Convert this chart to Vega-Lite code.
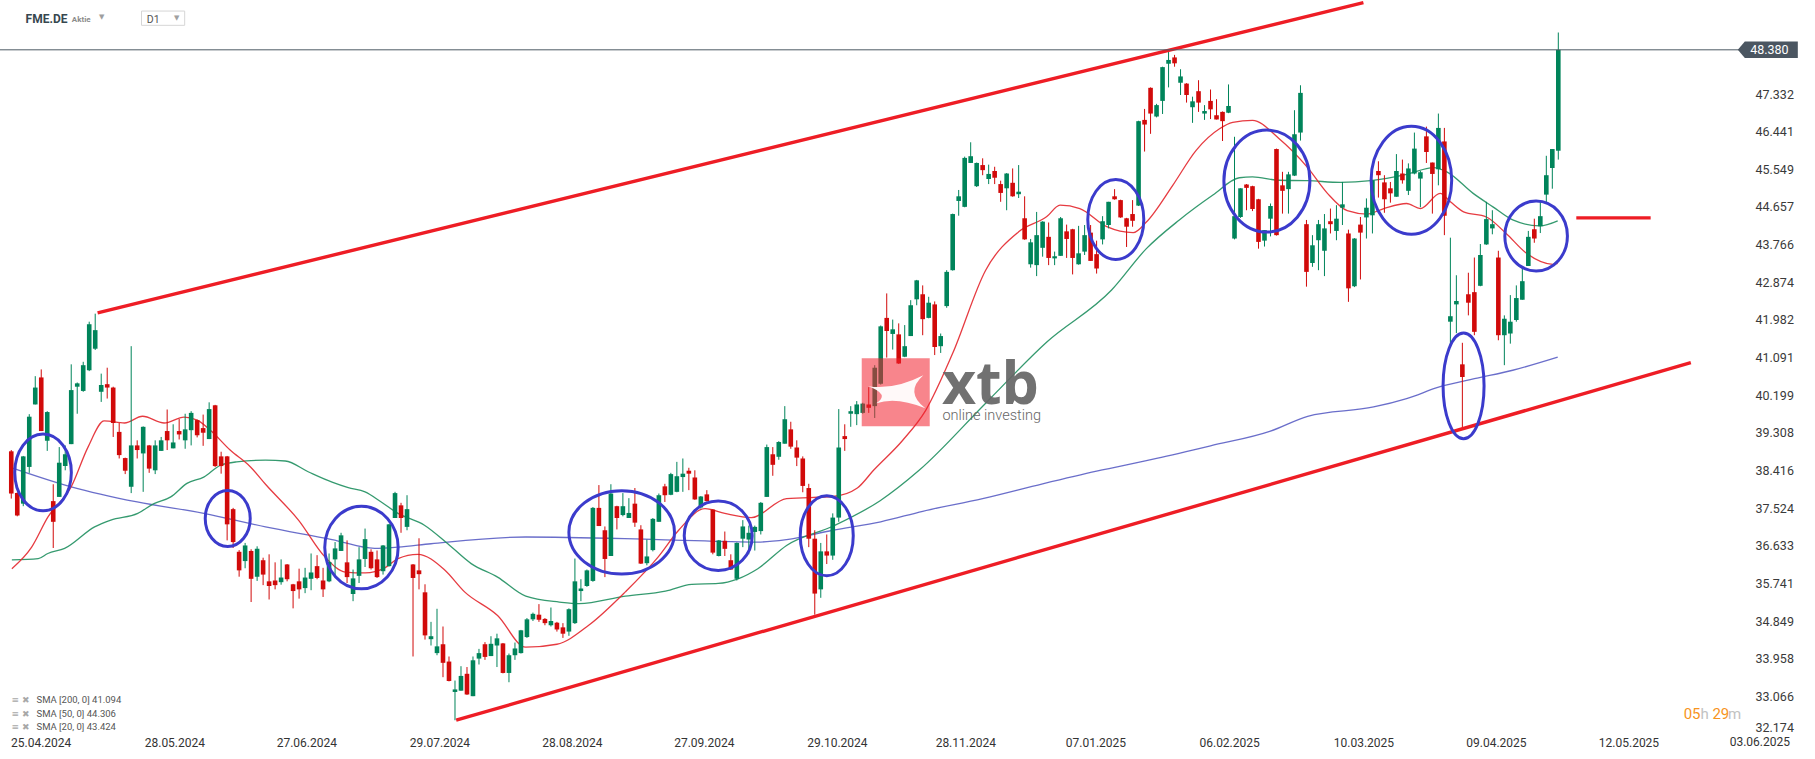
{
  "$schema": "https://vega.github.io/schema/vega-lite/v6.json",
  "width": 1742,
  "height": 734,
  "autosize": {"type": "none"},
  "padding": {"left": 0, "top": 0, "right": 73, "bottom": 25},
  "background": "#ffffff",
  "config": {"font": "Roboto", "view": {"stroke": null}},
  "datasets": {
    "one": [{"k": 1}],
    "candles": [
      {"i":0,"o":38.87,"h":38.90,"l":37.75,"c":37.87},{"i":1,"o":37.88,"h":37.90,"l":37.33,"c":37.35},{"i":2,"o":37.63,"h":38.76,"l":37.57,"c":38.75},{"i":3,"o":38.50,"h":39.75,"l":38.36,"c":39.69},{"i":4,"o":39.98,"h":40.65,"l":39.98,"c":40.38},{"i":5,"o":40.62,"h":40.81,"l":39.35,"c":39.35},{"i":6,"o":39.12,"h":39.82,"l":38.88,"c":39.80},{"i":7,"o":37.69,"h":38.09,"l":36.58,"c":37.20},{"i":8,"o":37.79,"h":38.97,"l":37.79,"c":38.60},{"i":9,"o":38.52,"h":39.01,"l":38.42,"c":38.80},
      {"i":10,"o":39.04,"h":40.93,"l":39.04,"c":40.32},{"i":11,"o":40.40,"h":40.50,"l":39.76,"c":40.48},{"i":12,"o":40.30,"h":40.99,"l":40.28,"c":40.91},{"i":13,"o":40.79,"h":41.94,"l":40.77,"c":41.88},{"i":14,"o":41.30,"h":42.13,"l":41.27,"c":41.74},{"i":15,"o":40.28,"h":40.71,"l":40.04,"c":40.44},{"i":16,"o":40.46,"h":40.85,"l":40.12,"c":40.38},{"i":17,"o":40.38,"h":40.40,"l":39.21,"c":39.54},{"i":18,"o":39.33,"h":39.54,"l":38.70,"c":38.78},{"i":19,"o":38.71,"h":38.72,"l":38.33,"c":38.41},
      {"i":20,"o":38.03,"h":41.36,"l":37.88,"c":39.01},{"i":21,"o":39.01,"h":39.13,"l":38.70,"c":38.90},{"i":22,"o":38.82,"h":39.46,"l":37.91,"c":39.45},{"i":23,"o":39.01,"h":39.02,"l":38.36,"c":38.46},{"i":24,"o":38.42,"h":39.13,"l":38.33,"c":39.01},{"i":25,"o":38.88,"h":39.21,"l":38.88,"c":39.13},{"i":26,"o":39.35,"h":39.86,"l":38.90,"c":39.13},{"i":27,"o":38.94,"h":39.51,"l":38.94,"c":39.08},{"i":28,"o":39.35,"h":39.64,"l":39.15,"c":39.27},{"i":29,"o":39.13,"h":39.76,"l":38.93,"c":39.39},
      {"i":30,"o":39.37,"h":39.82,"l":39.01,"c":39.78},{"i":31,"o":39.61,"h":39.62,"l":39.20,"c":39.25},{"i":32,"o":39.42,"h":39.74,"l":39.00,"c":39.31},{"i":33,"o":39.16,"h":40.03,"l":39.16,"c":39.87},{"i":34,"o":39.96,"h":39.97,"l":38.50,"c":38.52},{"i":35,"o":38.75,"h":38.86,"l":38.34,"c":38.52},{"i":36,"o":38.75,"h":38.76,"l":36.76,"c":37.14},{"i":37,"o":37.50,"h":37.53,"l":36.58,"c":36.72},{"i":38,"o":36.49,"h":36.53,"l":35.90,"c":36.05},{"i":39,"o":36.27,"h":36.70,"l":36.10,"c":36.64},
      {"i":40,"o":36.51,"h":36.55,"l":35.30,"c":35.85},{"i":41,"o":35.90,"h":36.62,"l":35.80,"c":36.56},{"i":42,"o":36.29,"h":36.35,"l":35.70,"c":35.95},{"i":43,"o":35.79,"h":36.43,"l":35.36,"c":35.68},{"i":44,"o":35.81,"h":36.24,"l":35.60,"c":35.70},{"i":45,"o":35.77,"h":36.31,"l":35.71,"c":35.88},{"i":46,"o":36.19,"h":36.20,"l":35.79,"c":35.84},{"i":47,"o":35.72,"h":35.73,"l":35.15,"c":35.56},{"i":48,"o":35.79,"h":36.09,"l":35.38,"c":35.60},{"i":49,"o":35.63,"h":36.11,"l":35.51,"c":35.88},
      {"i":50,"o":35.85,"h":36.45,"l":35.58,"c":36.00},{"i":51,"o":36.15,"h":36.41,"l":35.84,"c":35.87},{"i":52,"o":35.81,"h":36.11,"l":35.42,"c":35.60},{"i":53,"o":35.79,"h":36.45,"l":35.77,"c":36.25},{"i":54,"o":36.31,"h":36.72,"l":35.89,"c":36.57},{"i":55,"o":36.51,"h":36.94,"l":36.51,"c":36.88},{"i":56,"o":36.24,"h":36.76,"l":35.75,"c":35.89},{"i":57,"o":35.49,"h":36.07,"l":35.32,"c":35.86},{"i":58,"o":35.92,"h":36.60,"l":35.75,"c":36.31},{"i":59,"o":36.32,"h":37.04,"l":36.13,"c":36.79},
      {"i":60,"o":36.49,"h":36.55,"l":36.07,"c":36.10},{"i":61,"o":36.31,"h":36.52,"l":35.87,"c":35.89},{"i":62,"o":36.03,"h":36.65,"l":35.95,"c":36.64},{"i":63,"o":36.15,"h":37.15,"l":36.14,"c":37.14},{"i":64,"o":37.29,"h":37.91,"l":37.29,"c":37.88},{"i":65,"o":37.59,"h":37.65,"l":36.94,"c":37.29},{"i":66,"o":37.08,"h":37.83,"l":37.00,"c":37.50},{"i":67,"o":36.19,"h":36.20,"l":34.01,"c":35.87},{"i":68,"o":36.05,"h":36.81,"l":35.60,"c":35.96},{"i":69,"o":35.53,"h":35.72,"l":34.41,"c":34.51},
      {"i":70,"o":34.42,"h":34.83,"l":34.27,"c":34.49},{"i":71,"o":34.09,"h":35.14,"l":34.04,"c":34.25},{"i":72,"o":34.30,"h":34.72,"l":33.52,"c":33.86},{"i":73,"o":33.89,"h":34.01,"l":33.42,"c":33.43},{"i":74,"o":33.17,"h":33.44,"l":32.50,"c":33.23},{"i":75,"o":33.20,"h":33.78,"l":33.20,"c":33.55},{"i":76,"o":33.60,"h":33.76,"l":33.10,"c":33.11},{"i":77,"o":33.07,"h":34.01,"l":33.07,"c":33.92},{"i":78,"o":33.96,"h":34.19,"l":33.82,"c":34.09},{"i":79,"o":34.30,"h":34.35,"l":33.93,"c":34.00},
      {"i":80,"o":34.02,"h":34.49,"l":34.02,"c":34.31},{"i":81,"o":34.27,"h":34.55,"l":33.76,"c":34.44},{"i":82,"o":34.32,"h":34.33,"l":33.61,"c":33.62},{"i":83,"o":33.62,"h":34.08,"l":33.40,"c":34.04},{"i":84,"o":34.04,"h":34.34,"l":33.93,"c":34.20},{"i":85,"o":34.09,"h":34.64,"l":34.08,"c":34.63},{"i":86,"o":34.47,"h":34.92,"l":34.45,"c":34.89},{"i":87,"o":34.89,"h":35.05,"l":34.85,"c":35.02},{"i":88,"o":35.00,"h":35.25,"l":34.83,"c":34.88},{"i":89,"o":34.90,"h":34.92,"l":34.75,"c":34.80},
      {"i":90,"o":34.75,"h":35.17,"l":34.72,"c":34.85},{"i":91,"o":34.81,"h":34.83,"l":34.60,"c":34.65},{"i":92,"o":34.70,"h":34.80,"l":34.45,"c":34.55},{"i":93,"o":34.60,"h":35.15,"l":34.50,"c":35.13},{"i":94,"o":34.80,"h":36.33,"l":34.78,"c":35.79},{"i":95,"o":35.56,"h":35.84,"l":35.32,"c":35.62},{"i":96,"o":35.68,"h":36.07,"l":35.66,"c":36.05},{"i":97,"o":35.80,"h":37.55,"l":35.78,"c":37.53},{"i":98,"o":37.53,"h":38.07,"l":37.10,"c":37.10},{"i":99,"o":37.00,"h":37.09,"l":35.89,"c":36.32},
      {"i":100,"o":36.39,"h":38.09,"l":36.39,"c":37.87},{"i":101,"o":37.57,"h":37.58,"l":37.02,"c":37.29},{"i":102,"o":37.36,"h":37.88,"l":37.33,"c":37.57},{"i":103,"o":37.29,"h":37.76,"l":37.29,"c":37.41},{"i":104,"o":37.63,"h":38.00,"l":37.08,"c":37.18},{"i":105,"o":37.02,"h":37.12,"l":36.20,"c":36.21},{"i":106,"o":36.22,"h":36.78,"l":36.17,"c":36.38},{"i":107,"o":36.53,"h":37.29,"l":36.50,"c":37.27},{"i":108,"o":37.20,"h":37.87,"l":37.20,"c":37.83},{"i":109,"o":38.04,"h":38.10,"l":37.67,"c":37.83},
      {"i":110,"o":37.84,"h":38.36,"l":37.83,"c":38.33},{"i":111,"o":37.91,"h":38.62,"l":37.90,"c":38.28},{"i":112,"o":38.26,"h":38.70,"l":37.91,"c":38.34},{"i":113,"o":38.41,"h":38.48,"l":37.95,"c":38.34},{"i":114,"o":38.25,"h":38.42,"l":37.72,"c":37.73},{"i":115,"o":37.54,"h":37.81,"l":37.51,"c":37.80},{"i":116,"o":37.85,"h":37.95,"l":37.68,"c":37.69},{"i":117,"o":37.49,"h":37.50,"l":36.43,"c":36.47},{"i":118,"o":36.39,"h":36.77,"l":36.38,"c":36.76},{"i":119,"o":36.75,"h":36.97,"l":36.39,"c":36.56},
      {"i":120,"o":36.29,"h":36.43,"l":36.06,"c":36.07},{"i":121,"o":35.85,"h":36.71,"l":35.81,"c":36.70},{"i":122,"o":36.80,"h":37.24,"l":36.60,"c":37.09},{"i":123,"o":36.78,"h":37.11,"l":36.43,"c":36.94},{"i":124,"o":36.96,"h":37.11,"l":36.52,"c":37.08},{"i":125,"o":36.98,"h":37.67,"l":36.90,"c":37.65},{"i":126,"o":37.79,"h":39.03,"l":37.79,"c":38.97},{"i":127,"o":38.80,"h":38.97,"l":38.29,"c":38.55},{"i":128,"o":38.74,"h":39.11,"l":38.67,"c":39.09},{"i":129,"o":39.05,"h":39.94,"l":39.05,"c":39.63},
      {"i":130,"o":39.39,"h":39.57,"l":38.93,"c":38.98},{"i":131,"o":38.96,"h":39.13,"l":38.52,"c":38.72},{"i":132,"o":38.70,"h":38.75,"l":37.90,"c":38.05},{"i":133,"o":38.00,"h":38.10,"l":36.60,"c":36.80},{"i":134,"o":36.80,"h":37.00,"l":35.00,"c":35.50},{"i":135,"o":35.60,"h":36.70,"l":35.40,"c":36.50},{"i":136,"o":36.50,"h":36.90,"l":36.20,"c":36.40},{"i":137,"o":36.40,"h":37.40,"l":36.30,"c":37.30},{"i":138,"o":37.30,"h":39.87,"l":37.20,"c":38.96},{"i":139,"o":39.23,"h":39.51,"l":38.88,"c":39.16},
      {"i":140,"o":39.76,"h":39.94,"l":39.45,"c":39.82},{"i":141,"o":39.75,"h":40.06,"l":39.49,"c":39.98},{"i":142,"o":39.78,"h":40.02,"l":39.76,"c":40.00},{"i":143,"o":39.98,"h":40.39,"l":39.78,"c":39.90},{"i":144,"o":39.94,"h":40.91,"l":39.66,"c":40.85},{"i":145,"o":40.47,"h":41.85,"l":40.45,"c":41.83},{"i":146,"o":42.03,"h":42.61,"l":41.09,"c":41.72},{"i":147,"o":41.65,"h":41.99,"l":41.28,"c":41.76},{"i":148,"o":41.64,"h":41.90,"l":40.94,"c":40.95},{"i":149,"o":41.11,"h":41.86,"l":41.10,"c":41.36},
      {"i":150,"o":41.60,"h":42.45,"l":41.60,"c":42.33},{"i":151,"o":42.47,"h":42.93,"l":42.33,"c":42.92},{"i":152,"o":42.59,"h":42.80,"l":41.62,"c":42.00},{"i":153,"o":42.03,"h":42.53,"l":42.02,"c":42.39},{"i":154,"o":42.35,"h":42.42,"l":41.15,"c":41.34},{"i":155,"o":41.36,"h":41.66,"l":41.20,"c":41.60},{"i":156,"o":42.31,"h":43.16,"l":42.27,"c":43.12},{"i":157,"o":43.16,"h":44.50,"l":43.15,"c":44.49},{"i":158,"o":44.80,"h":45.06,"l":44.45,"c":44.91},{"i":159,"o":44.66,"h":45.85,"l":44.65,"c":45.82},
      {"i":160,"o":45.70,"h":46.19,"l":45.70,"c":45.86},{"i":161,"o":45.15,"h":45.71,"l":45.13,"c":45.70},{"i":162,"o":45.65,"h":45.81,"l":45.41,"c":45.53},{"i":163,"o":45.32,"h":45.66,"l":45.20,"c":45.44},{"i":164,"o":45.51,"h":45.61,"l":45.20,"c":45.35},{"i":165,"o":45.20,"h":45.28,"l":44.78,"c":44.99},{"i":166,"o":45.10,"h":45.46,"l":44.58,"c":45.45},{"i":167,"o":45.23,"h":45.57,"l":44.90,"c":44.91},{"i":168,"o":44.96,"h":45.65,"l":44.87,"c":45.02},{"i":169,"o":44.39,"h":44.91,"l":43.88,"c":43.89},
      {"i":170,"o":43.30,"h":43.90,"l":43.22,"c":43.82},{"i":171,"o":43.28,"h":44.54,"l":43.02,"c":43.99},{"i":172,"o":43.69,"h":44.32,"l":43.48,"c":44.31},{"i":173,"o":43.95,"h":44.29,"l":43.28,"c":43.45},{"i":174,"o":43.44,"h":43.60,"l":43.28,"c":43.49},{"i":175,"o":43.50,"h":44.42,"l":43.50,"c":44.39},{"i":176,"o":44.08,"h":44.24,"l":43.45,"c":43.90},{"i":177,"o":44.13,"h":44.14,"l":43.06,"c":43.45},{"i":178,"o":43.30,"h":44.21,"l":43.29,"c":43.56},{"i":179,"o":43.60,"h":44.23,"l":43.52,"c":43.99},
      {"i":180,"o":44.05,"h":44.23,"l":43.38,"c":43.38},{"i":181,"o":43.54,"h":43.86,"l":43.08,"c":43.20},{"i":182,"o":43.89,"h":44.44,"l":43.77,"c":44.32},{"i":183,"o":44.23,"h":44.78,"l":44.15,"c":44.78},{"i":184,"o":44.91,"h":45.08,"l":44.83,"c":44.84},{"i":185,"o":44.82,"h":44.83,"l":44.40,"c":44.41},{"i":186,"o":44.39,"h":44.40,"l":43.71,"c":44.19},{"i":187,"o":44.49,"h":44.82,"l":44.19,"c":44.33},{"i":188,"o":44.69,"h":46.70,"l":44.68,"c":46.69},{"i":189,"o":46.72,"h":46.98,"l":45.97,"c":46.61},
      {"i":190,"o":47.48,"h":47.49,"l":46.39,"c":46.87},{"i":191,"o":46.80,"h":47.10,"l":46.78,"c":47.07},{"i":192,"o":47.17,"h":47.98,"l":46.86,"c":47.97},{"i":193,"o":48.05,"h":48.34,"l":47.49,"c":48.14},{"i":194,"o":48.20,"h":48.26,"l":47.98,"c":48.06},{"i":195,"o":47.60,"h":47.92,"l":47.31,"c":47.75},{"i":196,"o":47.58,"h":47.59,"l":47.13,"c":47.31},{"i":197,"o":47.02,"h":47.27,"l":46.65,"c":47.16},{"i":198,"o":47.40,"h":47.66,"l":46.91,"c":47.13},{"i":199,"o":46.87,"h":47.07,"l":46.72,"c":46.93},
      {"i":200,"o":47.17,"h":47.44,"l":46.74,"c":46.97},{"i":201,"o":46.83,"h":47.21,"l":46.73,"c":46.73},{"i":202,"o":46.91,"h":46.92,"l":46.22,"c":46.69},{"i":203,"o":46.89,"h":47.56,"l":46.88,"c":47.05},{"i":204,"o":43.91,"h":46.32,"l":43.89,"c":44.44},{"i":205,"o":44.42,"h":45.10,"l":44.40,"c":45.10},{"i":206,"o":45.19,"h":45.20,"l":44.58,"c":45.11},{"i":207,"o":45.15,"h":45.16,"l":44.56,"c":44.61},{"i":208,"o":44.84,"h":44.85,"l":43.67,"c":43.83},{"i":209,"o":43.86,"h":44.11,"l":43.72,"c":44.11},
      {"i":210,"o":44.38,"h":44.74,"l":43.96,"c":44.68},{"i":211,"o":46.03,"h":46.04,"l":43.98,"c":43.99},{"i":212,"o":45.17,"h":45.49,"l":44.50,"c":45.04},{"i":213,"o":45.08,"h":45.49,"l":44.50,"c":45.43},{"i":214,"o":45.40,"h":46.95,"l":45.39,"c":46.38},{"i":215,"o":46.42,"h":47.54,"l":46.23,"c":47.36},{"i":216,"o":44.25,"h":44.35,"l":42.77,"c":43.12},{"i":217,"o":43.33,"h":43.99,"l":43.24,"c":43.75},{"i":218,"o":43.87,"h":44.35,"l":43.16,"c":44.25},{"i":219,"o":43.62,"h":44.49,"l":43.02,"c":44.15},
      {"i":220,"o":44.32,"h":44.62,"l":44.03,"c":44.25},{"i":221,"o":44.09,"h":44.70,"l":43.87,"c":44.38},{"i":222,"o":44.64,"h":45.25,"l":44.23,"c":44.72},{"i":223,"o":44.03,"h":44.12,"l":42.41,"c":42.73},{"i":224,"o":42.78,"h":43.92,"l":42.76,"c":43.91},{"i":225,"o":44.24,"h":44.42,"l":42.94,"c":44.05},{"i":226,"o":44.41,"h":44.86,"l":43.91,"c":44.64},{"i":227,"o":44.46,"h":45.30,"l":44.03,"c":45.29},{"i":228,"o":45.51,"h":45.74,"l":44.88,"c":45.41},{"i":229,"o":45.24,"h":45.41,"l":44.52,"c":44.84},
      {"i":230,"o":45.10,"h":45.25,"l":44.76,"c":44.98},{"i":231,"o":44.90,"h":45.91,"l":44.90,"c":45.51},{"i":232,"o":45.45,"h":45.78,"l":45.21,"c":45.29},{"i":233,"o":45.04,"h":45.69,"l":44.94,"c":45.57},{"i":234,"o":45.45,"h":46.42,"l":45.43,"c":46.04},{"i":235,"o":45.33,"h":45.51,"l":44.65,"c":45.48},{"i":236,"o":46.33,"h":46.56,"l":45.70,"c":45.96},{"i":237,"o":45.71,"h":45.71,"l":44.50,"c":45.44},{"i":238,"o":45.55,"h":46.87,"l":45.17,"c":46.53},{"i":239,"o":46.21,"h":46.53,"l":43.99,"c":44.45},
      {"i":240,"o":41.94,"h":43.93,"l":41.38,"c":42.07},{"i":241,"o":42.35,"h":43.04,"l":41.67,"c":42.43},{"i":242,"o":40.93,"h":41.44,"l":39.41,"c":40.63},{"i":243,"o":42.59,"h":43.10,"l":42.09,"c":42.39},{"i":244,"o":42.64,"h":43.46,"l":41.62,"c":41.70},{"i":245,"o":42.79,"h":43.78,"l":42.78,"c":43.52},{"i":246,"o":43.77,"h":44.78,"l":43.76,"c":44.37},{"i":247,"o":44.15,"h":44.58,"l":44.01,"c":44.25},{"i":248,"o":43.46,"h":43.62,"l":41.50,"c":41.62},{"i":249,"o":41.62,"h":42.09,"l":40.91,"c":42.01},
      {"i":250,"o":41.66,"h":42.57,"l":41.42,"c":41.94},{"i":251,"o":41.98,"h":42.80,"l":41.94,"c":42.50},{"i":252,"o":42.46,"h":43.22,"l":42.46,"c":42.90},{"i":253,"o":43.26,"h":44.09,"l":43.26,"c":43.95},{"i":254,"o":44.13,"h":44.38,"l":43.81,"c":43.91},{"i":255,"o":44.20,"h":44.78,"l":44.04,"c":44.44},{"i":256,"o":44.95,"h":45.87,"l":44.76,"c":45.41},{"i":257,"o":45.58,"h":46.03,"l":45.09,"c":46.03},{"i":258,"o":45.99,"h":48.79,"l":45.78,"c":48.38}
    ],
    "sma": [
      {"s":"SMA200","i":0.1,"v":38.48},{"s":"SMA200","i":10,"v":38.03},{"s":"SMA200","i":21,"v":37.67},{"s":"SMA200","i":32.1,"v":37.40},{"s":"SMA200","i":42.4,"v":37.08},{"s":"SMA200","i":53.5,"v":36.78},{"s":"SMA200","i":60.6,"v":36.57},{"s":"SMA200","i":64.5,"v":36.60},{"s":"SMA200","i":70,"v":36.68},{"s":"SMA200","i":85.8,"v":36.84},{"s":"SMA200","i":107.9,"v":36.78},{"s":"SMA200","i":124.5,"v":36.72},{"s":"SMA200","i":129.3,"v":36.78},{"s":"SMA200","i":137,"v":37.0},{"s":"SMA200","i":145,"v":37.2},{"s":"SMA200","i":152,"v":37.45},{"s":"SMA200","i":162,"v":37.75},{"s":"SMA200","i":172,"v":38.1},{"s":"SMA200","i":181,"v":38.4},{"s":"SMA200","i":191,"v":38.7},{"s":"SMA200","i":200,"v":39.0},{"s":"SMA200","i":210,"v":39.35},{"s":"SMA200","i":216.2,"v":39.70},{"s":"SMA200","i":227.2,"v":39.92},{"s":"SMA200","i":232.7,"v":40.12},{"s":"SMA200","i":238.3,"v":40.40},{"s":"SMA200","i":244,"v":40.59},{"s":"SMA200","i":250.4,"v":40.79},{"s":"SMA200","i":257.9,"v":41.10},
      {"s":"SMA50","i":0.1,"v":36.30},{"s":"SMA50","i":4.5,"v":36.33},{"s":"SMA50","i":6.1,"v":36.45},{"s":"SMA50","i":8.9,"v":36.57},{"s":"SMA50","i":13.9,"v":37.08},{"s":"SMA50","i":16.6,"v":37.24},{"s":"SMA50","i":21.1,"v":37.40},{"s":"SMA50","i":23.8,"v":37.63},{"s":"SMA50","i":26.6,"v":37.79},{"s":"SMA50","i":29.3,"v":38.11},{"s":"SMA50","i":32.1,"v":38.26},{"s":"SMA50","i":34.9,"v":38.54},{"s":"SMA50","i":37.6,"v":38.62},{"s":"SMA50","i":42.4,"v":38.66},{"s":"SMA50","i":45.7,"v":38.64},{"s":"SMA50","i":49.6,"v":38.38},{"s":"SMA50","i":53.5,"v":38.14},{"s":"SMA50","i":56.2,"v":38.01},{"s":"SMA50","i":59,"v":37.91},{"s":"SMA50","i":61.7,"v":37.67},{"s":"SMA50","i":64.5,"v":37.40},{"s":"SMA50","i":68.9,"v":37.12},{"s":"SMA50","i":72.8,"v":36.68},{"s":"SMA50","i":76.7,"v":36.21},{"s":"SMA50","i":81.1,"v":35.89},{"s":"SMA50","i":85.8,"v":35.44},{"s":"SMA50","i":91.4,"v":35.30},{"s":"SMA50","i":94.7,"v":35.26},{"s":"SMA50","i":102.4,"v":35.44},{"s":"SMA50","i":109.1,"v":35.56},{"s":"SMA50","i":113.5,"v":35.72},{"s":"SMA50","i":117.9,"v":35.74},{"s":"SMA50","i":121.2,"v":35.85},{"s":"SMA50","i":124.5,"v":36.09},{"s":"SMA50","i":129.3,"v":36.64},{"s":"SMA50","i":137.1,"v":37.1},{"s":"SMA50","i":144.9,"v":37.7},{"s":"SMA50","i":151.4,"v":38.42},{"s":"SMA50","i":162.5,"v":40.01},{"s":"SMA50","i":172.7,"v":41.46},{"s":"SMA50","i":183.5,"v":42.69},{"s":"SMA50","i":189.3,"v":43.67},{"s":"SMA50","i":194.8,"v":44.35},{"s":"SMA50","i":200.4,"v":44.94},{"s":"SMA50","i":204.8,"v":45.35},{"s":"SMA50","i":207,"v":45.37},{"s":"SMA50","i":211.4,"v":45.29},{"s":"SMA50","i":216.2,"v":45.28},{"s":"SMA50","i":221.7,"v":45.24},{"s":"SMA50","i":226.7,"v":45.28},{"s":"SMA50","i":232.7,"v":45.43},{"s":"SMA50","i":237.2,"v":45.59},{"s":"SMA50","i":239.4,"v":45.49},{"s":"SMA50","i":243.8,"v":44.98},{"s":"SMA50","i":247.1,"v":44.66},{"s":"SMA50","i":250.4,"v":44.35},{"s":"SMA50","i":254.9,"v":44.21},{"s":"SMA50","i":257.9,"v":44.33},
      {"s":"SMA20","i":0.1,"v":36.09},{"s":"SMA20","i":3.4,"v":36.60},{"s":"SMA20","i":6.1,"v":37.31},{"s":"SMA20","i":10,"v":38.03},{"s":"SMA20","i":12.8,"v":38.97},{"s":"SMA20","i":15.5,"v":39.59},{"s":"SMA20","i":18.9,"v":39.54},{"s":"SMA20","i":21.9,"v":39.70},{"s":"SMA20","i":25.5,"v":39.54},{"s":"SMA20","i":28.8,"v":39.68},{"s":"SMA20","i":31,"v":39.61},{"s":"SMA20","i":33.2,"v":39.37},{"s":"SMA20","i":36.5,"v":38.90},{"s":"SMA20","i":39.9,"v":38.50},{"s":"SMA20","i":42.4,"v":38.09},{"s":"SMA20","i":47.9,"v":37.24},{"s":"SMA20","i":52.3,"v":36.37},{"s":"SMA20","i":55.7,"v":36.01},{"s":"SMA20","i":59,"v":35.99},{"s":"SMA20","i":62.3,"v":36.11},{"s":"SMA20","i":64.5,"v":36.33},{"s":"SMA20","i":67.8,"v":36.43},{"s":"SMA20","i":72.2,"v":36.07},{"s":"SMA20","i":75.6,"v":35.54},{"s":"SMA20","i":81.1,"v":34.98},{"s":"SMA20","i":85.8,"v":34.23},{"s":"SMA20","i":91,"v":34.30},{"s":"SMA20","i":96.3,"v":34.75},{"s":"SMA20","i":102.4,"v":35.54},{"s":"SMA20","i":107.9,"v":36.37},{"s":"SMA20","i":111.3,"v":37.00},{"s":"SMA20","i":115.7,"v":37.51},{"s":"SMA20","i":119,"v":37.40},{"s":"SMA20","i":123.4,"v":37.30},{"s":"SMA20","i":129.3,"v":37.75},{"s":"SMA20","i":137.1,"v":37.8},{"s":"SMA20","i":141.1,"v":38.0},{"s":"SMA20","i":143.8,"v":38.42},{"s":"SMA20","i":148.6,"v":39.12},{"s":"SMA20","i":152.5,"v":39.84},{"s":"SMA20","i":157,"v":41.19},{"s":"SMA20","i":162.5,"v":43.16},{"s":"SMA20","i":168,"v":44.07},{"s":"SMA20","i":172.7,"v":44.43},{"s":"SMA20","i":174.9,"v":44.70},{"s":"SMA20","i":178.2,"v":44.62},{"s":"SMA20","i":182.7,"v":44.19},{"s":"SMA20","i":187.1,"v":44.05},{"s":"SMA20","i":189.3,"v":44.30},{"s":"SMA20","i":193.7,"v":45.17},{"s":"SMA20","i":197.6,"v":46.00},{"s":"SMA20","i":201.5,"v":46.51},{"s":"SMA20","i":203.7,"v":46.66},{"s":"SMA20","i":207,"v":46.71},{"s":"SMA20","i":211.4,"v":46.28},{"s":"SMA20","i":216.2,"v":45.59},{"s":"SMA20","i":219.5,"v":44.98},{"s":"SMA20","i":222.8,"v":44.57},{"s":"SMA20","i":226.1,"v":44.49},{"s":"SMA20","i":228.9,"v":44.62},{"s":"SMA20","i":232.7,"v":44.74},{"s":"SMA20","i":235,"v":44.62},{"s":"SMA20","i":238.3,"v":44.98},{"s":"SMA20","i":240,"v":44.78},{"s":"SMA20","i":242.2,"v":44.54},{"s":"SMA20","i":246,"v":44.42},{"s":"SMA20","i":249.3,"v":44.03},{"s":"SMA20","i":252.7,"v":43.56},{"s":"SMA20","i":257.1,"v":43.30},{"s":"SMA20","i":257.9,"v":43.32}
    ],
    "trend": [
      {"i":14.4,"p":42.15,"i2":225.5,"p2":49.50},
      {"i":74.2,"p":32.50,"i2":280.1,"p2":40.97},
      {"i":261,"p":44.40,"i2":273.4,"p2":44.40}
    ],
    "ellipses": [
      {"id":"E1","i":5.3,"p":38.37},{"id":"E2","i":36.1,"p":37.28},{"id":"E3","i":58.4,"p":36.59},{"id":"E4","i":101.8,"p":36.95},{"id":"E5","i":117.9,"p":36.87},{"id":"E6","i":136.0,"p":36.87},{"id":"E7","i":184.2,"p":44.36},{"id":"E8","i":209.4,"p":45.27},{"id":"E9","i":233.5,"p":45.29},{"id":"E10","i":242.2,"p":40.42},{"id":"E11","i":254.3,"p":43.97}
    ]
  },
  "layer": [
    {
      "data": {"name": "sma"},
      "mark": {"type": "line", "strokeWidth": 1.3, "interpolate": "monotone", "opacity": 0.9},
      "encoding": {
        "x": {"field": "i", "type": "quantitative",
          "scale": {"domain": [-1.045, 287.8], "nice": false, "zero": false},
          "axis": {"title": null, "domain": false, "ticks": false, "grid": false, "labelFlush": false, "labelOverlap": false,
            "values": [4.9, 27.2, 49.2, 71.4, 93.5, 115.5, 137.7, 159.1, 180.8, 203.1, 225.5, 247.6, 269.7],
            "labelExpr": "datum.value < 10 ? '25.04.2024' : datum.value < 30 ? '28.05.2024' : datum.value < 50 ? '27.06.2024' : datum.value < 80 ? '29.07.2024' : datum.value < 100 ? '28.08.2024' : datum.value < 120 ? '27.09.2024' : datum.value < 140 ? '29.10.2024' : datum.value < 170 ? '28.11.2024' : datum.value < 190 ? '07.01.2025' : datum.value < 210 ? '06.02.2025' : datum.value < 230 ? '10.03.2025' : datum.value < 250 ? '09.04.2025' : '12.05.2025'",
            "labelFont": "Roboto", "labelFontSize": 12, "labelColor": "#333333", "labelPadding": 8, "labelBaseline": "middle"}},
        "y": {"field": "v", "type": "quantitative",
          "scale": {"domain": [32.174, 49.56], "nice": false, "zero": false},
          "axis": {"orient": "right", "title": null, "domain": false, "ticks": false, "grid": false, "labelFlush": true, "labelOverlap": false,
            "values": [32.174, 33.066, 33.958, 34.849, 35.741, 36.633, 37.524, 38.416, 39.308, 40.199, 41.091, 41.982, 42.874, 43.766, 44.657, 45.549, 46.441, 47.332],
            "format": ".3f", "labelFont": "Roboto", "labelFontSize": 12.5, "labelColor": "#3a3a3a", "labelPadding": 13, "labelAlign": "left"}},
        "color": {"field": "s", "type": "nominal", "legend": null,
          "scale": {"domain": ["SMA200", "SMA50", "SMA20"], "range": ["#5a5ec4", "#1f8f5f", "#e3262c"]}}
      }
    },
    {
      "data": {"name": "candles"},
      "mark": {"type": "rule", "strokeWidth": 1},
      "encoding": {
        "x": {"field": "i", "type": "quantitative"},
        "y": {"field": "l", "type": "quantitative"},
        "y2": {"field": "h"},
        "color": {"condition": {"test": "datum.c >= datum.o", "value": "#00845a"}, "value": "#d10a0a"}
      }
    },
    {
      "data": {"name": "candles"},
      "mark": {"type": "bar", "size": 4.6},
      "encoding": {
        "x": {"field": "i", "type": "quantitative"},
        "y": {"field": "o", "type": "quantitative"},
        "y2": {"field": "c"},
        "color": {"condition": {"test": "datum.c >= datum.o", "value": "#00845a"}, "value": "#d10a0a"}
      }
    },
    {
      "data": {"name": "one"},
      "mark": {"type": "point", "shape": "square", "size": 4624, "filled": true, "fill": "#f3212e", "opacity": 0.55, "strokeWidth": 0},
      "encoding": {"x": {"datum": 147.5, "type": "quantitative"}, "y": {"datum": 40.27, "type": "quantitative"}}
    },
    {
      "data": {"name": "one"},
      "mark": {"type": "point", "shape": "M -28 -6 Q -2 -2 27 -17 Q 8 0 29 16 Q 0 4 -20 11 Q -6 2 -28 -6 Z", "size": 4, "filled": true, "fill": "#ffffff", "opacity": 0.95, "strokeWidth": 0},
      "encoding": {"x": {"datum": 147.6, "type": "quantitative"}, "y": {"datum": 40.27, "type": "quantitative"}}
    },
    {
      "data": {"name": "one"},
      "mark": {"type": "text", "text": "xtb", "font": "Open Sans", "fontWeight": "bold", "fontSize": 59, "fill": "#666666", "opacity": 0.92, "align": "left", "baseline": "alphabetic"},
      "encoding": {"x": {"datum": 155.2, "type": "quantitative"}, "y": {"datum": 40.0, "type": "quantitative"}}
    },
    {
      "data": {"name": "one"},
      "mark": {"type": "text", "text": "online investing", "font": "Roboto", "fontWeight": 300, "fontSize": 14.5, "fill": "#666666", "align": "left", "baseline": "alphabetic"},
      "encoding": {"x": {"datum": 155.3, "type": "quantitative"}, "y": {"datum": 39.62, "type": "quantitative"}}
    },
    {
      "data": {"name": "trend"},
      "mark": {"type": "rule", "strokeWidth": 3.4, "color": "#ee1d25"},
      "encoding": {
        "x": {"field": "i", "type": "quantitative"},
        "y": {"field": "p", "type": "quantitative"},
        "x2": {"field": "i2"},
        "y2": {"field": "p2"}
      }
    },
    {
      "data": {"name": "ellipses"},
      "mark": {"type": "point", "filled": false, "size": 4, "stroke": "#3b3bcc", "strokeWidth": 3, "opacity": 1},
      "encoding": {
        "x": {"field": "i", "type": "quantitative"},
        "y": {"field": "p", "type": "quantitative"},
        "shape": {"field": "id", "type": "nominal", "legend": null,
          "scale": {"domain": ["E1","E2","E3","E4","E5","E6","E7","E8","E9","E10","E11"],
            "range": [
              "M 28.3 0 C 28.3 21.2 15.6 38.3 0 38.3 C -15.6 38.3 -28.3 21.2 -28.3 0 C -28.3 -21.2 -15.6 -38.3 0 -38.3 C 15.6 -38.3 28.3 -21.2 28.3 0 Z",
              "M 22.5 0 C 22.5 15.5 12.4 28 0 28 C -12.4 28 -22.5 15.5 -22.5 0 C -22.5 -15.5 -12.4 -28 0 -28 C 12.4 -28 22.5 -15.5 22.5 0 Z",
              "M 36.7 0 C 36.7 22.8 20.3 41.2 0 41.2 C -20.3 41.2 -36.7 22.8 -36.7 0 C -36.7 -22.8 -20.3 -41.2 0 -41.2 C 20.3 -41.2 36.7 -22.8 36.7 0 Z",
              "M 52.8 0 C 52.8 23 29.2 41.7 0 41.7 C -29.2 41.7 -52.8 23 -52.8 0 C -52.8 -23 -29.2 -41.7 0 -41.7 C 29.2 -41.7 52.8 -23 52.8 0 Z",
              "M 34 0 C 34 19.2 18.8 34.7 0 34.7 C -18.8 34.7 -34 19.2 -34 0 C -34 -19.2 -18.8 -34.7 0 -34.7 C 18.8 -34.7 34 -19.2 34 0 Z",
              "M 26.5 0 C 26.5 22.1 14.6 40 0 40 C -14.6 40 -26.5 22.1 -26.5 0 C -26.5 -22.1 -14.6 -40 0 -40 C 14.6 -40 26.5 -22.1 26.5 0 Z",
              "M 28 0 C 28 22.1 15.5 40 0 40 C -15.5 40 -28 22.1 -28 0 C -28 -22.1 -15.5 -40 0 -40 C 15.5 -40 28 -22.1 28 0 Z",
              "M 43 0 C 43 28.2 23.7 51 0 51 C -23.7 51 -43 28.2 -43 0 C -43 -28.2 -23.7 -51 0 -51 C 23.7 -51 43 -28.2 43 0 Z",
              "M 40.3 0 C 40.3 29.8 22.3 54 0 54 C -22.3 54 -40.3 29.8 -40.3 0 C -40.3 -29.8 -22.3 -54 0 -54 C 22.3 -54 40.3 -29.8 40.3 0 Z",
              "M 20.5 0 C 20.5 29.2 11.3 52.8 0 52.8 C -11.3 52.8 -20.5 29.2 -20.5 0 C -20.5 -29.2 -11.3 -52.8 0 -52.8 C 11.3 -52.8 20.5 -29.2 20.5 0 Z",
              "M 31.3 0 C 31.3 19.3 17.3 35 0 35 C -17.3 35 -31.3 19.3 -31.3 0 C -31.3 -19.3 -17.3 -35 0 -35 C 17.3 -35 31.3 -19.3 31.3 0 Z"
            ]}}
      }
    },
    {
      "data": {"name": "one"},
      "mark": {"type": "rule", "color": "#4d5964", "strokeWidth": 1},
      "encoding": {"y": {"datum": 48.38, "type": "quantitative"}}
    },
    {
      "data": {"name": "one"},
      "mark": {"type": "point", "shape": "M -30 0 L -23 -8.3 L 30 -8.3 L 30 8.3 L -23 8.3 Z", "size": 4, "filled": true, "fill": "#4b5661", "opacity": 1, "strokeWidth": 0},
      "encoding": {"x": {"datum": 292.94, "type": "quantitative"}, "y": {"datum": 48.38, "type": "quantitative"}}
    },
    {
      "data": {"name": "one"},
      "mark": {"type": "text", "text": "48.380", "font": "Roboto", "fontSize": 12.5, "fill": "#ffffff", "align": "left", "baseline": "middle"},
      "encoding": {"x": {"datum": 290.0, "type": "quantitative"}, "y": {"datum": 48.38, "type": "quantitative"}}
    },
    {
      "data": {"name": "one"},
      "mark": {"type": "text", "text": "03.06.2025", "font": "Roboto", "fontSize": 12, "fill": "#333333", "align": "center", "baseline": "middle"},
      "encoding": {"x": {"datum": 291.6, "type": "quantitative"}, "y": {"datum": 31.985, "type": "quantitative"}}
    },
    {
      "data": {"name": "one"},
      "mark": {"type": "text", "text": "FME.DE", "font": "Roboto", "fontWeight": "bold", "fontSize": 12, "fill": "#37474f", "align": "left", "baseline": "alphabetic"},
      "encoding": {"x": {"datum": 2.39, "type": "quantitative"}, "y": {"datum": 49.005, "type": "quantitative"}}
    },
    {
      "data": {"name": "one"},
      "mark": {"type": "text", "text": "Aktie", "font": "Roboto", "fontWeight": "bold", "fontSize": 8, "fill": "#8c8c8c", "align": "left", "baseline": "alphabetic"},
      "encoding": {"x": {"datum": 10.1, "type": "quantitative"}, "y": {"datum": 49.03, "type": "quantitative"}}
    },
    {
      "data": {"name": "one"},
      "mark": {"type": "text", "text": "▼", "font": "DejaVu Sans", "fontSize": 7, "fill": "#9e9e9e", "align": "center", "baseline": "middle"},
      "encoding": {"x": {"datum": 15.1, "type": "quantitative"}, "y": {"datum": 49.16, "type": "quantitative"}}
    },
    {
      "data": {"name": "one"},
      "mark": {"type": "rect", "fill": "#ffffff", "stroke": "#d6d6d6", "strokeWidth": 1},
      "encoding": {"x": {"datum": 21.72, "type": "quantitative"}, "x2": {"datum": 28.92}, "y": {"datum": 49.298, "type": "quantitative"}, "y2": {"datum": 48.96}}
    },
    {
      "data": {"name": "one"},
      "mark": {"type": "text", "text": "D1", "font": "Roboto", "fontSize": 10.5, "fill": "#555555", "align": "left", "baseline": "alphabetic"},
      "encoding": {"x": {"datum": 22.6, "type": "quantitative"}, "y": {"datum": 49.02, "type": "quantitative"}}
    },
    {
      "data": {"name": "one"},
      "mark": {"type": "text", "text": "▼", "font": "DejaVu Sans", "fontSize": 7, "fill": "#a0a0a0", "align": "center", "baseline": "middle"},
      "encoding": {"x": {"datum": 27.6, "type": "quantitative"}, "y": {"datum": 49.145, "type": "quantitative"}}
    },
    {
      "data": {"name": "one"},
      "mark": {"type": "text", "text": "≡ ✖", "font": "DejaVu Sans", "fontSize": 9, "fill": "#a8a8a8", "align": "left", "baseline": "middle"},
      "encoding": {"x": {"datum": 0.05, "type": "quantitative"}, "y": {"datum": 32.971, "type": "quantitative"}}
    },
    {
      "data": {"name": "one"},
      "mark": {"type": "text", "text": "≡ ✖", "font": "DejaVu Sans", "fontSize": 9, "fill": "#a8a8a8", "align": "left", "baseline": "middle"},
      "encoding": {"x": {"datum": 0.05, "type": "quantitative"}, "y": {"datum": 32.656, "type": "quantitative"}}
    },
    {
      "data": {"name": "one"},
      "mark": {"type": "text", "text": "≡ ✖", "font": "DejaVu Sans", "fontSize": 9, "fill": "#a8a8a8", "align": "left", "baseline": "middle"},
      "encoding": {"x": {"datum": 0.05, "type": "quantitative"}, "y": {"datum": 32.339, "type": "quantitative"}}
    },
    {
      "data": {"name": "one"},
      "mark": {"type": "text", "text": "SMA [200,  0] 41.094", "font": "Roboto", "fontSize": 9.5, "fill": "#555555", "align": "left", "baseline": "middle"},
      "encoding": {"x": {"datum": 4.21, "type": "quantitative"}, "y": {"datum": 32.971, "type": "quantitative"}}
    },
    {
      "data": {"name": "one"},
      "mark": {"type": "text", "text": "SMA [50,  0] 44.306", "font": "Roboto", "fontSize": 9.5, "fill": "#555555", "align": "left", "baseline": "middle"},
      "encoding": {"x": {"datum": 4.21, "type": "quantitative"}, "y": {"datum": 32.656, "type": "quantitative"}}
    },
    {
      "data": {"name": "one"},
      "mark": {"type": "text", "text": "SMA [20,  0] 43.424", "font": "Roboto", "fontSize": 9.5, "fill": "#555555", "align": "left", "baseline": "middle"},
      "encoding": {"x": {"datum": 4.21, "type": "quantitative"}, "y": {"datum": 32.339, "type": "quantitative"}}
    },
    {
      "data": {"name": "one"},
      "mark": {"type": "text", "text": "05", "font": "Roboto", "fontSize": 15, "fill": "#f7941d", "align": "left", "baseline": "middle"},
      "encoding": {"x": {"datum": 278.9, "type": "quantitative"}, "y": {"datum": 32.656, "type": "quantitative"}}
    },
    {
      "data": {"name": "one"},
      "mark": {"type": "text", "text": "h", "font": "Roboto", "fontSize": 15, "fill": "#c2c2c2", "align": "left", "baseline": "middle"},
      "encoding": {"x": {"datum": 281.7, "type": "quantitative"}, "y": {"datum": 32.656, "type": "quantitative"}}
    },
    {
      "data": {"name": "one"},
      "mark": {"type": "text", "text": "29", "font": "Roboto", "fontSize": 15, "fill": "#f7941d", "align": "left", "baseline": "middle"},
      "encoding": {"x": {"datum": 283.7, "type": "quantitative"}, "y": {"datum": 32.656, "type": "quantitative"}}
    },
    {
      "data": {"name": "one"},
      "mark": {"type": "text", "text": "m", "font": "Roboto", "fontSize": 15, "fill": "#c2c2c2", "align": "left", "baseline": "middle"},
      "encoding": {"x": {"datum": 286.3, "type": "quantitative"}, "y": {"datum": 32.656, "type": "quantitative"}}
    }
  ]
}
